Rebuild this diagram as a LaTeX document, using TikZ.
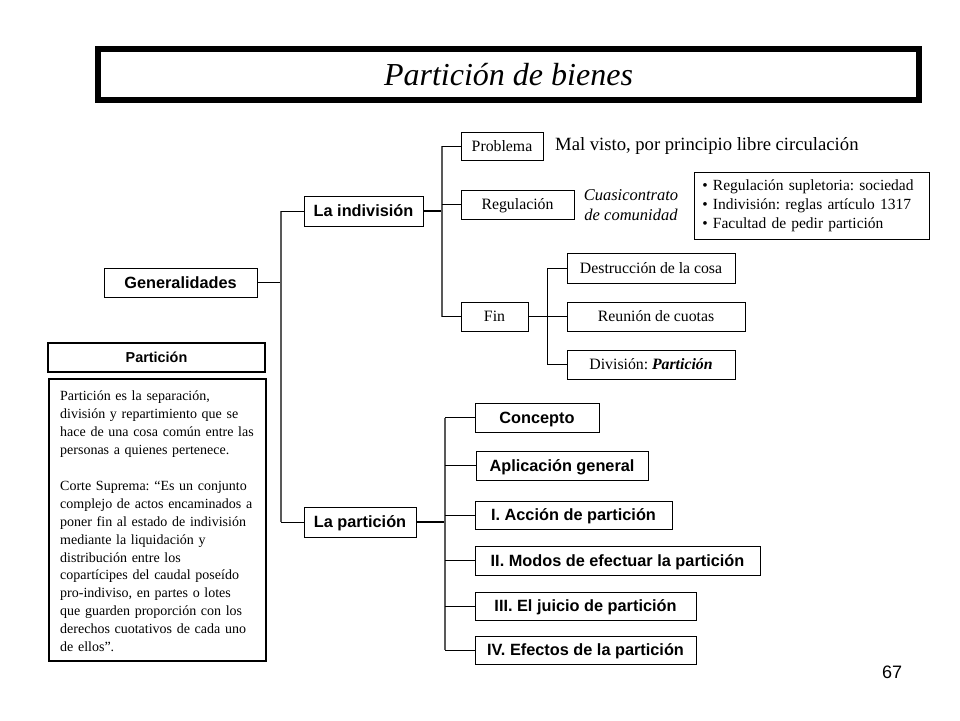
\documentclass[tikz,border=0pt]{standalone}
\usepackage{fontspec}
\setmainfont{Liberation Serif}
\setsansfont{Liberation Sans}
\newcommand\tightsp{\frenchspacing\spaceskip=0.24em plus 0.05em minus 0.02em\relax}
\newcommand\bodysp{\frenchspacing\spaceskip=0.2em plus 0.05em minus 0.02em\relax}
\begin{document}
\begin{tikzpicture}[x=1pt,y=-1pt,
  box/.style={draw=black,line width=0.8pt,inner sep=0pt},
  sbox/.style={box,font=\sffamily\bfseries\fontsize{16.3}{18}\selectfont,text height=11.6pt,text depth=0pt},
  rbox/.style={box,font=\rmfamily\fontsize{15.8}{18}\selectfont\tightsp,text height=10.3pt,text depth=0pt},
  trunk/.style={draw=black!65,line width=1.2pt},
  stub/.style={draw=black,line width=0.9pt},
  thickstub/.style={draw=black,line width=2pt}]
\useasboundingbox (0,0) rectangle (960,720);
% title
\node[draw=black,line width=6pt,minimum width=821pt,minimum height=51pt,inner sep=0pt,
  font=\rmfamily\itshape\fontsize{32}{36}\selectfont] (title) at (508.5,74.5) {Partición de bienes};
% main nodes
\node[sbox,minimum width=153pt,minimum height=29pt] (gen) at (180.5,282.5) {Generalidades};
\node[sbox,minimum width=119pt,minimum height=30pt] (ind) at (363.5,211) {La indivisión};
\node[sbox,minimum width=112pt,minimum height=30pt] (par) at (360,522) {La partición};
% indivision children
\node[rbox,minimum width=82pt,minimum height=28pt] (prob) at (502,146) {Problema};
\node[rbox,minimum width=113pt,minimum height=29pt] (reg) at (517.5,204.5) {Regulación};
\node[rbox,minimum width=67pt,minimum height=29pt] (fin) at (494.5,316.5) {Fin};
\node[rbox,minimum width=168pt,minimum height=30pt] (des) at (651,268) {Destrucción de la cosa};
\node[rbox,minimum width=178pt,minimum height=29pt] (reu) at (656,316.5) {Reunión de cuotas};
\node[rbox,minimum width=168pt,minimum height=29pt] (div) at (651,364.5) {División: \textbf{\textit{Partición}}};
% free texts
\node[anchor=west,inner sep=0pt,font=\rmfamily\fontsize{18.7}{22}\selectfont\tightsp] (mal) at (555,146) {Mal visto, por principio libre circulación};
\node[align=center,inner sep=0pt,font=\rmfamily\itshape\fontsize{16.5}{20}\selectfont] (cuasi) at (631,205) {Cuasicontrato\\de comunidad};
\node[box,anchor=north west,minimum height=67pt,text width=219pt,align=left,
  font=\rmfamily\fontsize{15.5}{19}\selectfont\tightsp,inner xsep=8pt] (bul) at (694,172)
  {• Regulación supletoria: sociedad\\• Indivisión: reglas artículo 1317\\• Facultad de pedir partición};
% particion children
\node[sbox,minimum width=124pt,minimum height=29pt] (con) at (537,417.5) {Concepto};
\node[sbox,minimum width=172pt,minimum height=29pt] (apl) at (562,465.5) {Aplicación general};
\node[sbox,minimum width=197pt,minimum height=28pt] (acc) at (573.5,515) {I. Acción de partición};
\node[sbox,minimum width=285pt,minimum height=29pt] (mod) at (617.5,560.5) {II. Modos de efectuar la partición};
\node[sbox,minimum width=221pt,minimum height=28pt] (jui) at (585.5,606) {III. El juicio de partición};
\node[sbox,minimum width=221pt,minimum height=28pt] (efe) at (585.5,650) {IV. Efectos de la partición};
% left boxes
\node[draw=black,line width=2.4pt,minimum width=217pt,minimum height=29pt,inner sep=0pt,
  font=\sffamily\bfseries\fontsize{14.4}{16}\selectfont,text height=10.3pt,text depth=0pt] (phead) at (156.5,357.5) {Partición};
\node[draw=black,line width=2.4pt,anchor=north west,minimum width=217pt,minimum height=282pt,
  inner sep=0pt] (pbody) at (48,378) {};
\node[anchor=north west,inner sep=0pt,align=left,text width=200pt,
  font=\rmfamily\fontsize{14}{17.9}\selectfont\bodysp] (ptext) at (60,391)
  {Partición es la separación,\\división y repartimiento que se\\hace de una cosa común entre las\\personas a quienes pertenece.\\[17.9pt]
   Corte Suprema: “Es un conjunto\\complejo de actos encaminados a\\poner fin al estado de indivisión\\mediante la liquidación y\\distribución entre los\\copartícipes del caudal poseído\\pro-indiviso, en partes o lotes\\que guarden proporción con los\\derechos cuotativos de cada uno\\de ellos”.};
% page number
\node[font=\sffamily\fontsize{18}{20}\selectfont,inner sep=0pt] (pg) at (892,672) {67};
% connectors
\coordinate (t1) at (281,0);
\draw[stub] (gen.east) -- (gen.east -| t1);
\draw[trunk] (ind.west -| t1) -- (par.west -| t1);
\draw[stub] (ind.west -| t1) -- (ind.west);
\draw[stub] (par.west -| t1) -- (par.west);
% indivision
\coordinate (t2) at (442,0);
\draw[thickstub] (ind.east) -- (ind.east -| t2);
\draw[trunk] (prob.west -| t2) -- (fin.west -| t2);
\foreach \n in {prob,reg,fin} \draw[stub] (\n.west -| t2) -- (\n.west);
% fin
\coordinate (t3) at (547,0);
\draw[stub] (fin.east) -- (fin.east -| t3);
\draw[stub] (des.west -| t3) -- (div.west -| t3);
\foreach \n in {des,reu,div} \draw[stub] (\n.west -| t3) -- (\n.west);
% particion
\coordinate (t4) at (445,0);
\draw[thickstub] (par.east) -- (par.east -| t4);
\draw[trunk] (con.west -| t4) -- (efe.west -| t4);
\foreach \n in {con,apl,acc,mod,jui,efe} \draw[stub] (\n.west -| t4) -- (\n.west);
\end{tikzpicture}
\end{document}
